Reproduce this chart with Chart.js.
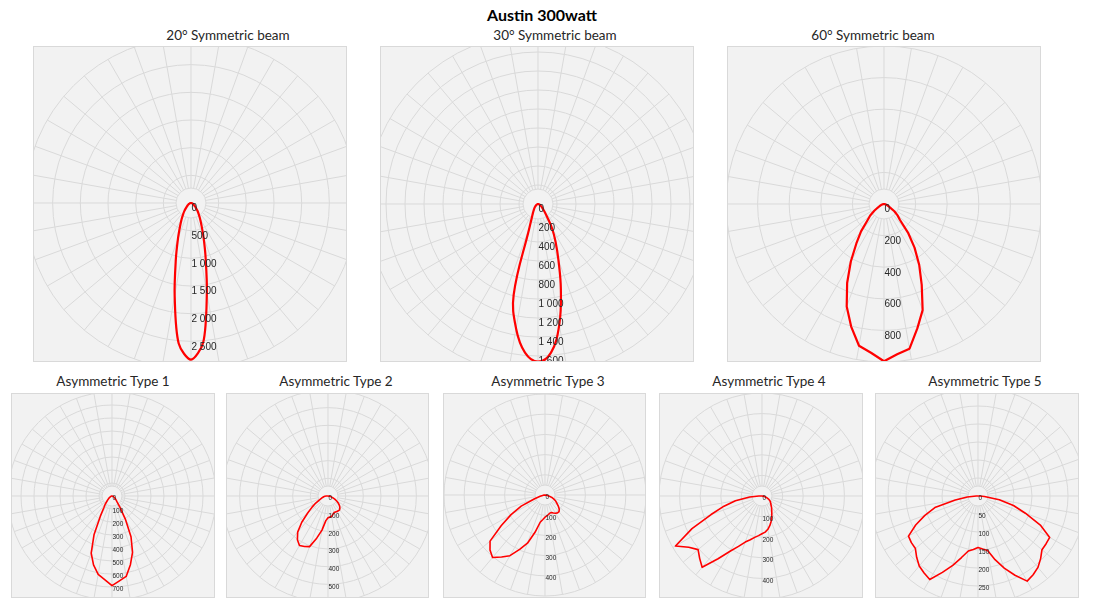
<!DOCTYPE html>
<html>
<head>
<meta charset="utf-8">
<script src="https://cdn.jsdelivr.net/npm/chart.js@4.4.1/dist/chart.umd.min.js"></script>
<style>
  body { margin: 0; background: #fff; }
  #page { position: relative; width: 1096px; height: 616px; overflow: hidden; font-family: Lato, "DejaVu Sans", sans-serif; }
  #title { position: absolute; left: 542px; top: 14px; transform: translate(-50%, -50%); font-weight: bold; font-size: 16px; color: #000; white-space: nowrap; }
  .sub { position: absolute; font-size: 13.5px; color: #262626; white-space: nowrap; transform: translate(-50%, -50%); }
  .box { position: absolute; box-sizing: border-box; border: 1px solid #d9d9d9; background: #f2f2f2; overflow: hidden; }
  .box canvas { position: absolute; }
</style>
</head>
<body>
<div id="page">
  <div id="title">Austin 300watt</div>
</div>
<script>
// -> Winkel in 5°-Schritten (0° = senkrecht nach unten, 90° = links, 270° = rechts)
const angles = [0,5,10,15,20,25,30,35,40,45,50,55,60,65,70,75,80,85,90,95,100,105,110,115,120,125,130,135,140,145,150,155,160,165,170,175,180,185,190,195,200,205,210,215,220,225,230,235,240,245,250,255,260,265,270,275,280,285,290,295,300,305,310,315,320,325,330,335,340,345,350,355];

// -> Titel
const chartTitles = ["20° Symmetric beam", "30° Symmetric beam", "60° Symmetric beam",
  "Asymmetric Type 1", "Asymmetric Type 2", "Asymmetric Type 3", "Asymmetric Type 4", "Asymmetric Type 5"];

// -> Lichtstärke (cd) pro Winkel
const beam20 = [2830,2550,1700,1060,690,470,340,250,185,130,95,72,54,40,30,20,12,6,0,
  0,0,0,0,0,0,0,0,0,0,0,0,0,0,0,0,0,0,0,0,0,0,0,0,0,0,0,0,0,0,0,0,0,0,0,
  0,6,12,18,28,38,52,70,92,125,178,240,325,450,665,1020,1650,2530];
const beam30 = [1660,1570,1330,990,260,150,105,78,60,46,35,27,20,15,10,7,4,2,0,
  0,0,0,0,0,0,0,0,0,0,0,0,0,0,0,0,0,0,0,0,0,0,0,0,0,0,0,0,0,0,0,0,0,0,0,
  0,3,6,10,15,22,30,40,55,75,110,170,295,436,629,930,1290,1570];
const beam60 = [995,945,911,803,690,552,420,305,226,150,114,75,45,30,20,12,7,3,0,
  0,0,0,0,0,0,0,0,0,0,0,0,0,0,0,0,0,0,0,0,0,0,0,0,0,0,0,0,0,0,0,0,0,0,0,
  0,3,7,12,20,30,45,80,112,143,236,337,446,565,715,815,930,955];
const asym1 = [690,646,612,549,468,326,179,108,80,52,38,28,20,14,9,6,3,1,0,
  0,0,0,0,0,0,0,0,0,0,0,0,0,0,0,0,0,0,0,0,0,0,0,0,0,0,0,0,0,0,0,0,0,0,0,
  0,1,3,5,9,13,19,26,35,45,62,109,205,346,462,547,628,655];
const asym2 = [123,140,196,247,305,315,323,302,267,210,150,110,80,55,40,32,25,18,10,
  0,0,0,0,0,0,0,0,0,0,0,0,0,0,0,0,0,0,0,0,0,0,0,0,0,0,0,0,0,0,0,0,0,0,0,
  0,6,11,19,28,42,57,72,85,95,102,102,101,100,100,108,118,120];
const asym3 = [110,122,137,191,254,297,347,375,404,385,355,265,194,130,57,25,12,5,0,
  0,0,0,0,0,0,0,0,0,0,0,0,0,0,0,0,0,0,0,0,0,0,0,0,0,0,0,0,0,0,0,0,0,0,0,
  0,5,12,22,36,50,62,72,86,100,108,108,104,98,92,93,98,104];
const asym4 = [183,193,204,220,238,270,310,372,452,428,405,434,485,375,263,191,131,60,15,
  0,0,0,0,0,0,0,0,0,0,0,0,0,0,0,0,0,0,0,0,0,0,0,0,0,0,0,0,0,0,0,0,0,0,0,
  0,5,11,18,26,35,43,50,55,62,72,82,95,112,130,148,164,176];
const asym5 = [143,149,155,177,205,234,268,261,254,241,227,226,223,191,157,124,64,30,5,
  0,0,0,0,0,0,0,0,0,0,0,0,0,0,0,0,0,0,0,0,0,0,0,0,0,0,0,0,0,0,0,0,0,0,0,
  5,18,60,102,140,191,230,231,232,246,259,267,273,243,213,183,154,148];

// -> Achsen (Maximum, Schritt, beschriftete Werte)
const scaleMax  = [3000, 1800, 1000, 800, 600, 500, 500, 300];
const scaleStep = [500, 200, 200, 100, 100, 100, 100, 50];
const ticks20 = [0, 500, 1000, 1500, 2000, 2500];
const ticks30 = [0, 200, 400, 600, 800, 1000, 1200, 1400, 1600];
const ticks60 = [0, 200, 400, 600, 800];
const ticksA1 = [0, 100, 200, 300, 400, 500, 600, 700];
const ticksA2 = [0, 100, 200, 300, 400, 500];
const ticksA3 = [0, 100, 200, 300, 400];
const ticksA4 = [0, 100, 200, 300, 400];
const ticksA5 = [0, 50, 100, 150, 200, 250];

const series = [beam20, beam30, beam60, asym1, asym2, asym3, asym4, asym5];
const tickValues = [ticks20, ticks30, ticks60, ticksA1, ticksA2, ticksA3, ticksA4, ticksA5];
const smoothing = [0.3, 0.4, 0, 0, 0, 0, 0, 0];

// -> Layout: Box [x, y, b, h], Mittelpunkt in der Box, px pro Schritt, Titelposition
const layout = [
  { box: [33, 46, 314, 316], center: [157.7, 157.3], ring: 27.7,  titleAt: [228, 35], big: true },
  { box: [380, 46, 314, 316], center: [158, 158],    ring: 19.03, titleAt: [555, 35], big: true },
  { box: [727, 46, 314, 316], center: [157.7, 158],  ring: 31.67, titleAt: [873, 35], big: true },
  { box: [11, 393, 204, 205],  center: [101.3, 103], ring: 13.0,  titleAt: [113, 381], big: false },
  { box: [226, 393, 203, 205], center: [102.3, 103], ring: 17.67, titleAt: [336, 381], big: false },
  { box: [443, 393, 203, 205], center: [102.3, 102.3], ring: 20.33, titleAt: [548, 381], big: false },
  { box: [659, 393, 204, 205], center: [103, 103],   ring: 20.67, titleAt: [769, 381], big: false },
  { box: [875, 393, 204, 205], center: [103, 103],   ring: 18.0,  titleAt: [985, 381], big: false }
];

function formatTick(v) {
  return String(v).replace(/\B(?=(\d{3})+(?!\d))/g, " ");
}

// -> Plugin: Loch in der Mitte + Beschriftung nach unten
const polarExtras = {
  id: "polarExtras",
  beforeDatasetsDraw(chart, args, opts) {
    const r = chart.scales.r;
    const ctx = chart.ctx;
    ctx.save();
    ctx.beginPath();
    ctx.arc(r.xCenter, r.yCenter, opts.hole, 0, Math.PI * 2);
    ctx.fillStyle = "#f2f2f2";
    ctx.fill();
    ctx.strokeStyle = "#d9d9d9";
    ctx.lineWidth = 1;
    ctx.stroke();
    ctx.restore();
  },
  afterDatasetsDraw(chart, args, opts) {
    const r = chart.scales.r;
    const ctx = chart.ctx;
    ctx.save();
    ctx.font = opts.font;
    ctx.fillStyle = "#262626";
    ctx.textAlign = "left";
    ctx.textBaseline = "middle";
    opts.values.forEach((v) => {
      const y = r.yCenter + r.getDistanceFromCenterForValue(v) + opts.offset;
      ctx.fillText(formatTick(v), r.xCenter + 0.5, y);
    });
    ctx.restore();
  }
};

const page = document.querySelector("#page");

layout.forEach((lay, i) => {
  // Titel
  const sub = document.createElement("div");
  sub.className = "sub";
  sub.textContent = chartTitles[i];
  sub.style.left = lay.titleAt[0] + "px";
  sub.style.top = lay.titleAt[1] + "px";
  page.appendChild(sub);

  // Box
  const box = document.createElement("div");
  box.className = "box";
  box.style.left = lay.box[0] + "px";
  box.style.top = lay.box[1] + "px";
  box.style.width = lay.box[2] + "px";
  box.style.height = lay.box[3] + "px";
  page.appendChild(box);

  const radius = scaleMax[i] / scaleStep[i] * lay.ring;
  const size = Math.round(radius * 2);
  const canvas = document.createElement("canvas");
  canvas.width = size;
  canvas.height = size;
  canvas.style.left = (lay.center[0] - 1 - size / 2) + "px";
  canvas.style.top = (lay.center[1] - 1 - size / 2) + "px";
  box.appendChild(canvas);

  new Chart(canvas, {
    type: "radar",
    data: {
      labels: angles,
      datasets: [{
        data: series[i],
        borderColor: "#ff0000",
        borderWidth: lay.big ? 2.2 : 1.6,
        borderJoinStyle: "round",
        pointRadius: 0,
        fill: false,
        tension: smoothing[i]
      }]
    },
    options: {
      responsive: false,
      animation: false,
      events: [],
      plugins: {
        legend: { display: false },
        tooltip: { enabled: false },
        polarExtras: {
          hole: lay.big ? 15 : 10,
          values: tickValues[i],
          font: lay.big ? '10px "Liberation Sans"' : '6.5px "Liberation Sans"',
          offset: lay.big ? 5.6 : 2.6
        }
      },
      scales: {
        r: {
          min: 0,
          max: scaleMax[i],
          startAngle: 180,
          ticks: { display: false, stepSize: scaleStep[i] },
          pointLabels: { display: false },
          grid: { circular: true, color: "#d9d9d9", lineWidth: 1 },
          angleLines: {
            color: "#d9d9d9",
            lineWidth: (c) => (c.index % 2 === 0 ? 1 : 0)
          }
        }
      }
    },
    plugins: [polarExtras]
  });
});
</script>
</body>
</html>
